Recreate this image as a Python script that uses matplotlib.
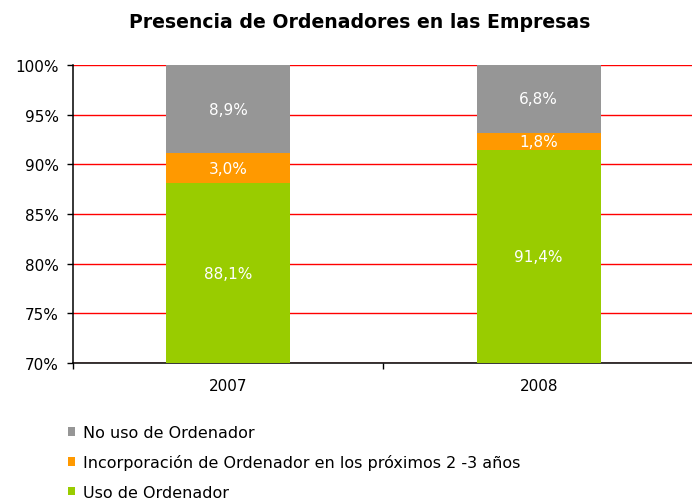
import matplotlib
matplotlib.use("Agg")
import matplotlib.pyplot as plt
from matplotlib.patches import Patch
import numpy as np

categories = ["2007", "2008"]
uso = [88.1, 91.4]
incorporacion = [3.0, 1.8]
no_uso = [8.9, 6.8]
series_names = ["Uso de Ordenador",
                "Incorporación de Ordenador en los próximos 2 -3 años",
                "No uso de Ordenador"]
yticks = [70, 75, 80, 85, 90, 95, 100]
title = "Presencia de Ordenadores en las Empresas"

colors = ["#99CC00", "#FF9900", "#969696"]

plt.rcParams['font.family'] = ['DejaVu Sans']

W, H = 692, 502
fig = plt.figure(figsize=(W / 100, H / 100), dpi=100)
left, right, top, bottom = 73, 694, 66, 364
ax = fig.add_axes([left / W, 1 - bottom / H, (right - left) / W, (bottom - top) / H])

x = np.arange(len(categories))
ylo, yhi = 70, 100
bottoms = np.zeros(len(categories))
for vals, c in zip([uso, incorporacion, no_uso], colors):
    vals = np.array(vals)
    ax.bar(x, vals, bottom=bottoms, width=0.40, color=c, zorder=3)
    for xi, b, v in zip(x, bottoms, vals):
        lo = max(b, ylo)
        hi = min(b + v, yhi)
        ax.text(xi, (lo + hi) / 2, f"{v:.1f}".replace(".", ",") + "%",
                ha="center", va="center", color="white", fontsize=11, zorder=4)
    bottoms = bottoms + vals

ax.set_xlim(-0.5, 1.5)
ax.set_ylim(ylo, yhi)
ax.set_yticks(yticks)
ax.set_yticklabels([f"{t}%" for t in yticks], fontsize=11)
ax.yaxis.grid(True, color="#FF0000", linewidth=1.0, zorder=0)
ax.set_axisbelow(True)

ax.set_xticks(x)
ax.set_xticklabels(categories, fontsize=11)
ax.tick_params(axis="x", which="major", length=0, pad=11)
ax.set_xticks([-0.5, 0.5, 1.5], minor=True)
ax.tick_params(axis="x", which="minor", length=4, direction="out", width=1)
ax.tick_params(axis="y", length=4, direction="out", width=1, pad=6)

for s in ["top", "right"]:
    ax.spines[s].set_visible(False)
for s in ["left", "bottom"]:
    ax.spines[s].set_color("black")
    ax.spines[s].set_linewidth(1.1)

fig.text(360 / W, 1 - 23 / H, title, ha="center", va="center",
         fontsize=13.6, fontweight="bold")

handles = [Patch(facecolor=colors[2]), Patch(facecolor=colors[1]), Patch(facecolor=colors[0])]
labels = [series_names[2], series_names[1], series_names[0]]
leg = fig.legend(handles, labels, loc="upper left",
                 bbox_to_anchor=(68 / W, 1 - 426 / H), frameon=False,
                 fontsize=11.5, handlelength=0.45, handleheight=0.45,
                 handletextpad=0.5, labelspacing=0.9, borderpad=0, borderaxespad=0)

fig.savefig("out.png", dpi=100)
